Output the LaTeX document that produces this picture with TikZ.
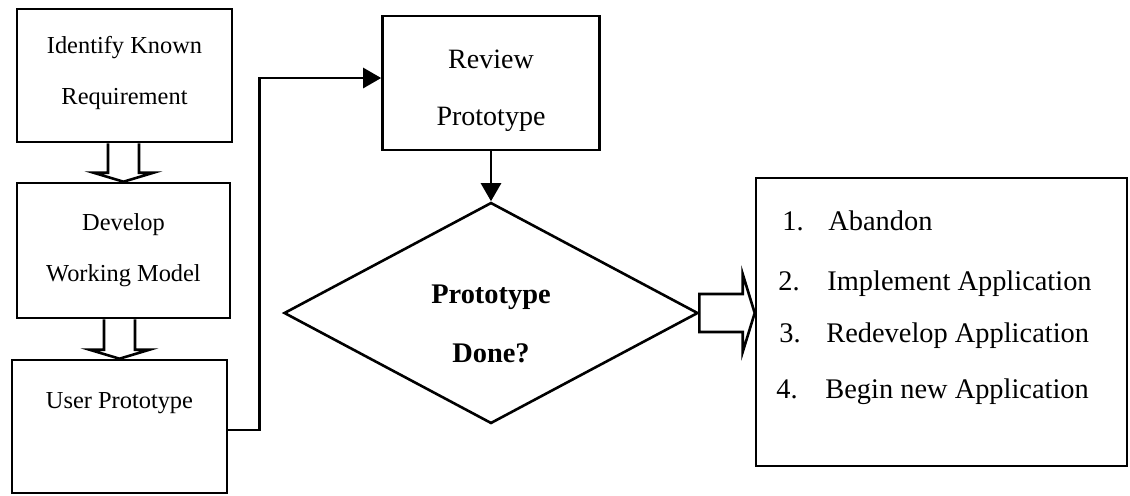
\documentclass[tikz,border=0pt]{standalone}
\usepackage{fontspec}
\setmainfont{Liberation Serif}
\usetikzlibrary{shapes.geometric,arrows.meta,calc}

% hollow block arrow pointing down from node #1 to node #2
\newcommand\downblock[2]{%
  \draw[block] ($(#2.north |- #1.south)+(-15.5,0)$) -- ($(#2.north)+(-15.5,-9)$)
    -- ($(#2.north)+(-30,-9)$) -- (#2.north) -- ($(#2.north)+(30,-9)$)
    -- ($(#2.north)+(15.5,-9)$) -- ($(#2.north |- #1.south)+(15.5,0)$);}

\begin{document}
\begin{tikzpicture}[x=0.5pt,y=-0.5pt,
  box/.style={draw, line width=1.3pt, inner sep=0pt, align=center, text height=0pt, text depth=0pt},
  stepbox/.style={box, font=\fontsize{12.2}{25.5}\selectfont},
  reviewbox/.style={box, font=\fontsize{14}{28.5}\selectfont},
  decision/.style={box, diamond, aspect=1.87, minimum width=207pt, minimum height=110.5pt,
    font=\bfseries\fontsize{14.2}{29.5}\selectfont},
  item/.style={anchor=base west, inner sep=0pt, font=\fontsize{14.2}{17}\selectfont},
  block/.style={line width=1.3pt, line join=miter},
  conn/.style={line width=1.3pt, -{Triangle[length=9pt,width=10pt]}}]
\useasboundingbox (0,0) rectangle (1130,495);

% left column
\node[stepbox, minimum width=107.5pt, minimum height=66.5pt, text height=28.5pt] (b1) at (124.5,75.5) {Identify Known\\Requirement};
\node[stepbox, minimum width=106.5pt, minimum height=67.5pt, text height=30.5pt] (b2) at (123.5,250.5) {Develop\\Working Model};
\node[stepbox, minimum width=107.5pt, minimum height=66.5pt, text depth=18.5pt] (b3) at (119.5,426.5) {User Prototype};

\downblock{b1}{b2}
\downblock{b2}{b3}

% review and decision
\node[reviewbox, minimum width=108.5pt, minimum height=67pt, text height=42pt] (rev) at (491,83) {Review\\Prototype};
\node[decision, text height=49pt] (dia) at (491,313) {Prototype\\Done?};

\draw[conn] ($(b3.east)+(0,3.5)$) -- ++(31,0) |- ($(rev.west)+(0,-5)$);
\draw[conn] (rev.south) -- (dia.north);

% outcomes
\node[box, minimum width=185.5pt, minimum height=144pt] (res) at (941.5,322) {};
\coordinate (rtip) at (dia.east -| res.west);
\draw[block] ($(dia.east)+(0,-19)$) -- ($(rtip)+(-12,-19)$) -- ($(rtip)+(-12,-39)$) -- (rtip)
  -- ($(rtip)+(-12,39)$) -- ($(rtip)+(-12,19)$) -- ($(dia.east)+(0,19)$) -- cycle;

\node[item] (i1) at (782,230) {\makebox[23pt][l]{1.}Abandon};
\node[item] (i2) at (778,290) {\makebox[24.5pt][l]{2.}Implement Application};
\node[item] (i3) at (779,342) {\makebox[23.5pt][l]{3.}Redevelop Application};
\node[item] (i4) at (776,398) {\makebox[24.5pt][l]{4.}Begin new Application};
\end{tikzpicture}
\end{document}
